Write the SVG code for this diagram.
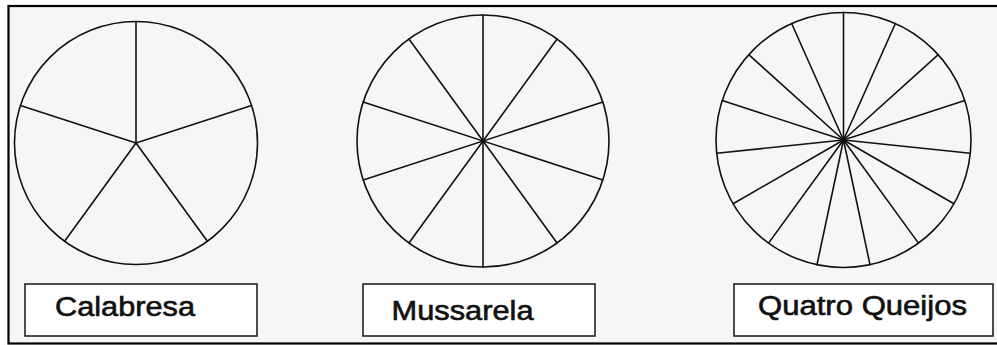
<svg xmlns="http://www.w3.org/2000/svg" width="997" height="345" viewBox="0 0 997 345">
<style>
.pie{fill:none;stroke:#111;stroke-width:1.6}
.sp{stroke:#111;stroke-width:1.6;stroke-linecap:round}
.lb{fill:#fff;stroke:#222;stroke-width:1.6}
.tx{font-family:"Liberation Sans",Arial,sans-serif;font-size:27px;fill:#111;stroke:#111;stroke-width:0.6}
</style>
<rect x="0" y="0" width="997" height="345" fill="#fff"/>
<rect x="8.5" y="6" width="1000" height="337.5" fill="#f6f6f6" stroke="#000" stroke-width="2.2"/>
<g id="calabresa">
<circle class="pie" cx="136" cy="143" r="121.5"/>
<rect class="lb" x="25" y="284" width="232" height="52"/>
<text class="tx" x="55" y="316" textLength="140" lengthAdjust="spacingAndGlyphs">Calabresa</text>
</g>
<g id="mussarela">
<circle class="pie" cx="483" cy="141" r="126"/>
<rect class="lb" x="363" y="284" width="232" height="52"/>
<text class="tx" x="391.5" y="319.5" textLength="142" lengthAdjust="spacingAndGlyphs">Mussarela</text>
</g>
<g id="quatro-queijos">
<circle class="pie" cx="843.5" cy="140" r="127.5"/>
<rect class="lb" x="734" y="284" width="259" height="52"/>
<text class="tx" x="758" y="315" textLength="209" lengthAdjust="spacingAndGlyphs">Quatro Queijos</text>
</g>
<g id="connectors">
<g class="sp">
<line x1="136" y1="143" x2="136" y2="21.5"/>
<line x1="136" y1="143" x2="251.56" y2="105.46"/>
<line x1="136" y1="143" x2="207.42" y2="241.29"/>
<line x1="136" y1="143" x2="64.58" y2="241.29"/>
<line x1="136" y1="143" x2="20.44" y2="105.46"/>
</g>
<g class="sp">
<line x1="483" y1="15" x2="483" y2="267"/>
<line x1="557.06" y1="39.07" x2="408.94" y2="242.93"/>
<line x1="602.84" y1="102.07" x2="363.16" y2="179.93"/>
<line x1="602.84" y1="179.93" x2="363.16" y2="102.07"/>
<line x1="557.06" y1="242.93" x2="408.94" y2="39.07"/>
</g>
<g class="sp">
<line x1="843.5" y1="140" x2="843.5" y2="12.5"/>
<line x1="843.5" y1="140" x2="895.35" y2="23.53"/>
<line x1="843.5" y1="140" x2="938.25" y2="54.69"/>
<line x1="843.5" y1="140" x2="964.76" y2="100.60"/>
<line x1="843.5" y1="140" x2="970.30" y2="153.32"/>
<line x1="843.5" y1="140" x2="953.92" y2="203.75"/>
<line x1="843.5" y1="140" x2="918.44" y2="243.15"/>
<line x1="843.5" y1="140" x2="870.01" y2="264.71"/>
<line x1="843.5" y1="140" x2="816.99" y2="264.71"/>
<line x1="843.5" y1="140" x2="768.56" y2="243.15"/>
<line x1="843.5" y1="140" x2="733.08" y2="203.75"/>
<line x1="843.5" y1="140" x2="716.70" y2="153.32"/>
<line x1="843.5" y1="140" x2="722.24" y2="100.60"/>
<line x1="843.5" y1="140" x2="748.75" y2="54.69"/>
<line x1="843.5" y1="140" x2="791.65" y2="23.53"/>
</g>
</g>
</svg>
